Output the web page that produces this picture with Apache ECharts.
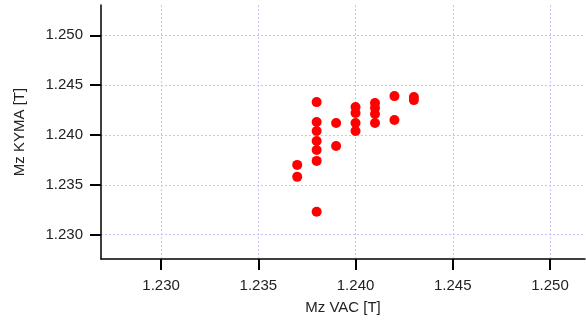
<!DOCTYPE html>
<html>
<head>
<meta charset="utf-8">
<script src="https://cdn.jsdelivr.net/npm/echarts@6/dist/echarts.min.js"></script>
<style>html,body{margin:0;padding:0;background:#fff}#c{width:586px;height:320px}</style>
</head>
<body>
<div id="c"></div>
<script>
var xValues = [1.237, 1.237, 1.238, 1.238, 1.238, 1.238, 1.238, 1.238, 1.238, 1.239, 1.239, 1.240, 1.240, 1.240, 1.240, 1.241, 1.241, 1.241, 1.241, 1.242, 1.242, 1.243, 1.243];
var yValues = [1.2370, 1.2358, 1.2433, 1.2413, 1.2404, 1.2394, 1.2385, 1.2374, 1.2323, 1.2412, 1.2389, 1.2428, 1.2422, 1.2412, 1.2404, 1.2432, 1.2427, 1.2421, 1.2412, 1.2439, 1.2415, 1.2438, 1.2435];
var xTicks = [1.230, 1.235, 1.240, 1.245, 1.250];
var yTicks = [1.230, 1.235, 1.240, 1.245, 1.250];
var xName = 'Mz VAC [T]';
var yName = 'Mz KYMA [T]';

var X_MIN = 1.22691, X_MAX = 1.25180, Y_MIN = 1.22756, Y_MAX = 1.25304;
var points = xValues.map(function (x, i) { return [x, yValues[i]]; });
var font = 'Liberation Sans';
function axis(name, ticks, min, max, gap, rot, margin) {
  return {
    type: 'value', name: name, nameLocation: 'middle', nameGap: gap, nameRotate: rot,
    nameTextStyle: { fontFamily: font, fontSize: 15, color: '#222' },
    min: min, max: max,
    axisLine: { show: true, onZero: false, lineStyle: { color: '#000', width: 1.5 } },
    axisTick: { show: true, inside: false, length: 11, customValues: ticks,
      lineStyle: { color: '#000', width: 2 } },
    axisLabel: { customValues: ticks, fontFamily: font, fontSize: 15, color: '#222', margin: margin,
      formatter: function (v) { return v.toFixed(3); } },
    splitLine: { show: true, lineStyle: { color: '#c4c4ff', type: [2, 2], width: 1 } }
  };
}
var chart = echarts.init(document.getElementById('c'), null, { renderer: 'canvas' });
chart.setOption({
  animation: false,
  grid: { left: 101, right: 1, top: 5, bottom: 59, containLabel: false },
  xAxis: axis(xName, xTicks, X_MIN, X_MAX, 41, 0, 19),
  yAxis: axis(yName, yTicks, Y_MIN, Y_MAX, 74, 90, 18),
  series: [
    { type: 'scatter', data: points, symbolSize: 10, itemStyle: { color: '#ff0000', opacity: 1 } }
  ]
});
</script>
</body>
</html>
